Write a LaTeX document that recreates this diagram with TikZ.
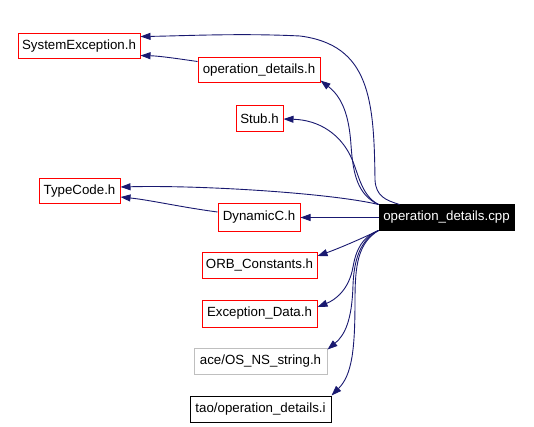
\documentclass[tikz,border=0pt]{standalone}
\usepackage{fontspec}
\setmainfont{Liberation Sans}
\usetikzlibrary{arrows.meta}
\definecolor{edgeblue}{HTML}{191970}
\definecolor{boxred}{HTML}{FF0000}
\definecolor{boxgrey}{HTML}{BFBFBF}
\tikzset{
  filebox/.style={draw=boxred, line width=1pt, minimum height=25pt, inner sep=0pt,
    font=\fontsize{13.3}{16}\selectfont, text=black},
  mainbox/.style={filebox, draw=black, fill=black, text=white},
  greybox/.style={filebox, draw=boxgrey},
  blackbox/.style={filebox, draw=black},
  dep/.style={draw=edgeblue, line width=0.9pt, -{Triangle[length=10pt,width=7pt]}, fill=none},
}
\begin{document}
\begin{tikzpicture}[x=1pt,y=-1pt]
\useasboundingbox (0,0) rectangle (534,427);
\node[filebox, minimum width=122pt] (se) at (79,46.5) {SystemException.h};
\node[filebox, minimum width=122pt] (od) at (259,70.5) {operation\_details.h};
\node[filebox, minimum width=47pt, minimum height=26pt] (stub) at (259.5,119) {Stub.h};
\node[filebox, minimum width=81pt] (tc) at (79.5,191.5) {TypeCode.h};
\node[filebox, minimum width=82pt, minimum height=27pt] (dc) at (259,217.5) {DynamicC.h};
\node[mainbox, minimum width=135pt] (cpp) at (446.5,217.5) {operation\_details.cpp};
\node[filebox, minimum width=115pt, minimum height=26pt] (orb) at (259.5,265) {ORB\_Constants.h};
\node[filebox, minimum width=115pt, minimum height=27pt] (ed) at (259.5,313.5) {Exception\_Data.h};
\node[greybox, minimum width=133pt, minimum height=26pt] (ace) at (260.5,361) {ace/OS\_NS\_string.h};
\node[blackbox, minimum width=141pt, minimum height=26pt] (tao) at (260.5,409) {tao/operation\_details.i};

% cpp -> SystemException.h
\draw[dep] ([xshift=21pt]cpp.north west) .. controls (385,200) and (376,196) .. (375,180)
  .. controls (374,100) and (370,45) .. (300,36)
  .. controls (240,33) and (180,36) .. ([yshift=-3pt]se.north east);
% operation_details.h -> SystemException.h
\draw[dep] ([yshift=-4pt]od.north west) .. controls (180,59) and (160,56) .. ([yshift=4pt]se.south east);
% cpp -> operation_details.h
\draw[dep] (cpp.north west) .. controls (358,195) and (353,175) .. (351,145)
  .. controls (349,115) and (342,97) .. ([yshift=3pt]od.south east);
% cpp -> Stub.h
\draw[dep] (cpp.north west) .. controls (360,195) and (358,170) .. (350,155)
  .. controls (340,135) and (320,120) .. (stub.east);
% cpp -> TypeCode.h
\draw[dep] (cpp.north west) .. controls (330,193) and (200,185) .. ([yshift=4.5pt]tc.east);
% DynamicC.h -> TypeCode.h
\draw[dep] ([yshift=5.5pt]dc.west) .. controls (180,207) and (150,200) .. ([yshift=-5.5pt]tc.east);
% cpp -> DynamicC.h
\draw[dep] (cpp.west) -- (dc.east);
% cpp -> ORB_Constants.h
\draw[dep] (cpp.south west) .. controls (365,237) and (340,248) .. ([yshift=9pt]orb.east);
% cpp -> Exception_Data.h
\draw[dep] (cpp.south west) .. controls (362,237) and (356,250) .. (353,267)
  .. controls (349,290) and (335,300) .. ([yshift=6.5pt]ed.east);
% cpp -> ace/OS_NS_string.h
\draw[dep] (cpp.south west) .. controls (360,240) and (354,260) .. (353,285)
  .. controls (352,320) and (345,335) .. ([yshift=-2pt]ace.north east);
% cpp -> tao/operation_details.i
\draw[dep] (cpp.south west) .. controls (358,243) and (355,265) .. (355,300)
  .. controls (355,350) and (352,375) .. (tao.north east);
\end{tikzpicture}
\end{document}
